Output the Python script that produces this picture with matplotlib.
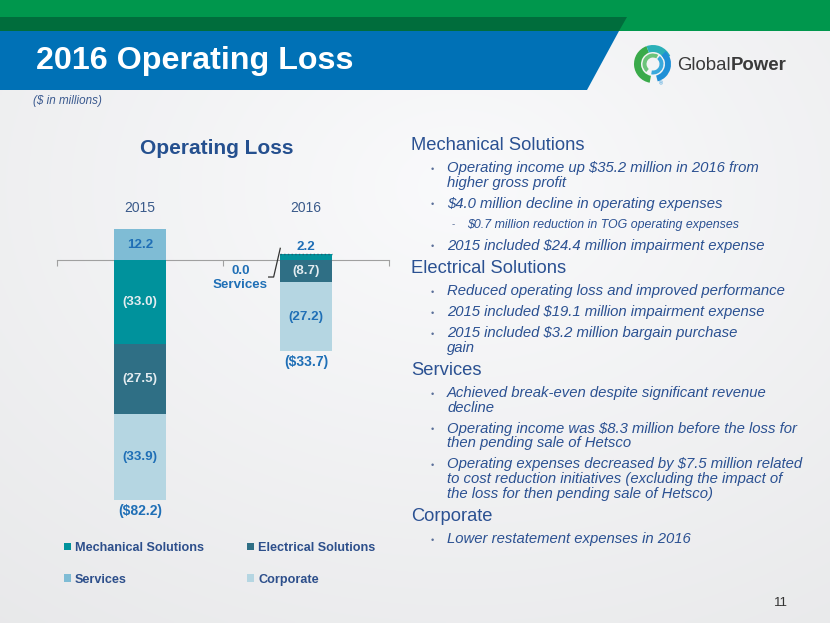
import numpy as np
import matplotlib.pyplot as plt
from matplotlib.patches import Polygon, Wedge

plt.rcParams['font.family'] = ['Liberation Sans', 'DejaVu Sans']

# operating income (loss) by segment, $ millions
years = ['2015', '2016']
segment_names = ['Mechanical Solutions', 'Electrical Solutions', 'Services', 'Corporate']
mechanical = [-33.0, 2.2]
electrical = [-27.5, -8.7]
services = [12.2, 0.0]
corporate = [-33.9, -27.2]
totals = [-82.2, -33.7]

seg_colors = ['#00929c', '#2f6f85', '#7fbcd5', '#b5d6e2']
label_colors = ['#e3ecf0', '#e3ecf0', '#1f6fb6', '#1f6fb6']
blue_txt = '#1f6fb6'
navy = '#2b5192'

notes = [
    (0, 'Mechanical Solutions'),
    (1, 'Operating income up $35.2 million in 2016 from\nhigher gross profit'),
    (1, '$4.0 million decline in operating expenses'),
    (2, '$0.7 million reduction in TOG operating expenses'),
    (1, '2015 included $24.4 million impairment expense'),
    (0, 'Electrical Solutions'),
    (1, 'Reduced operating loss and improved performance'),
    (1, '2015 included $19.1 million impairment expense'),
    (1, '2015 included $3.2 million bargain purchase\ngain'),
    (0, 'Services'),
    (1, 'Achieved break-even despite significant revenue\ndecline'),
    (1, 'Operating income was $8.3 million before the loss for\nthen pending sale of Hetsco'),
    (1, 'Operating expenses decreased by $7.5 million related\nto cost reduction initiatives (excluding the impact of\nthe loss for then pending sale of Hetsco)'),
    (0, 'Corporate'),
    (1, 'Lower restatement expenses in 2016'),
]

W, H = 830, 623
fig = plt.figure(figsize=(W / 100, H / 100), dpi=100)

# background / slide furniture, in pixel coords
bg = fig.add_axes([0, 0, 1, 1], zorder=-1)
bg.set_xlim(0, W)
bg.set_ylim(H, 0)
bg.axis('off')
yy, xx = np.mgrid[0:1:200j, 0:1:260j]
r = np.sqrt((xx - 0.55) ** 2 + (yy - 0.3) ** 2)
v = 0.978 - 0.075 * r
img = np.dstack([v, v + 0.002, v + 0.008]).clip(0, 1)
bg.imshow(img, extent=(0, W, H, 0), aspect='auto', interpolation='bilinear')

bg.add_patch(Polygon([(0, 0), (W, 0), (W, 31), (0, 31)], closed=True, color='#00974d', lw=0))
bg.add_patch(Polygon([(0, 17), (627, 17), (619, 31), (0, 31)], closed=True, color='#006d3c', lw=0))
bg.add_patch(Polygon([(0, 31), (619, 31), (587, 90), (0, 90)], closed=True, color='#0071b6', lw=0))
bg.text(36, 61, '2016 Operating Loss', color='white', fontsize=23.2, fontweight='bold',
        va='center', ha='left')
bg.text(33, 101, '($ in millions)', color='#3b5a8f', fontsize=8.4, style='italic',
        va='center', ha='left', parse_math=False)

# logo
c = (653, 64)
bg.add_patch(Wedge(c, 19, 100, 250, width=7, color='#3aaa4a', lw=0))
bg.add_patch(Wedge(c, 19, 250, 335, width=7, color='#2bb0b8', lw=0))
bg.add_patch(Wedge(c, 18, -45, 75, width=6, color='#1e8fd6', lw=0))
bg.add_patch(Wedge(c, 10.5, 130, 300, width=4, color='#6cc47a', lw=0))
bg.add_patch(Wedge(c, 10.5, -50, 100, width=4, color='#3aa9dc', lw=0))
bg.text(661, 84, '®', color='#1e8fd6', fontsize=4, ha='center', va='center')
bg.text(677, 66, 'Global', color='#3a3a3a', fontsize=13.4, va='center', ha='left')
bg.text(731, 66, 'Power', color='#3a3a3a', fontsize=13.4, fontweight='bold',
        va='center', ha='left')

bg.text(781, 603, '11', color='#333333', fontsize=9.5, ha='center', va='center')
bg.text(217, 148, 'Operating Loss', color='#25508f', fontsize=15, fontweight='bold',
        ha='center', va='center')

# right-hand commentary
y = 145
prev = None
for level, txt in notes:
    if prev is not None:
        y += 22.5 if level == 0 else (23 if prev == 0 else 21)
    lines = txt.split('\n')
    if level == 0:
        bg.text(411, y, txt, color=navy, fontsize=13.2, va='center', ha='left')
    elif level == 1:
        bg.text(432, y + 1, '•', color='#5a6f99', fontsize=6.5, va='center', ha='center')
        for k, ln in enumerate(lines):
            bg.text(447, y + k * 14.6, ln, color=navy, fontsize=10.7, style='italic',
                    va='center', ha='left', parse_math=False)
        y += (len(lines) - 1) * 14.6
    else:
        bg.text(453, y, '-', color='#5a6f99', fontsize=7, va='center', ha='center')
        bg.text(467, y, txt, color=navy, fontsize=8.9, style='italic',
                va='center', ha='left', parse_math=False)
    prev = level

# chart
zero_px, ppu = 260, 2.54
y_lo, y_hi = -95, 20
top_px = zero_px - y_hi * ppu
bot_px = zero_px - y_lo * ppu
ax = fig.add_axes([57 / W, 1 - bot_px / H, 332 / W, (bot_px - top_px) / H])
ax.patch.set_alpha(0)
ax.set_xlim(-0.5, 1.5)
ax.set_ylim(y_lo, y_hi)

x = np.arange(len(years))
bw = 0.31
series = [mechanical, electrical, services, corporate]
pos_base = np.zeros(len(years))
neg_base = np.zeros(len(years))
handles = []
for i, vals in enumerate(series):
    vals = np.array(vals)
    bottoms = np.where(vals >= 0, pos_base, neg_base)
    bars = ax.bar(x, vals, bw, bottom=bottoms, color=seg_colors[i], zorder=3,
                  label=segment_names[i])
    handles.append(bars)
    for j, val in enumerate(vals):
        mid = bottoms[j] + val / 2
        txt = f'({abs(val):.1f})' if val < 0 else f'{val:.1f}'
        if abs(val) >= 5:
            ax.text(x[j], mid, txt, ha='center', va='center', color=label_colors[i],
                    fontsize=9.6, fontweight='bold', zorder=4)
        elif val > 0:
            ax.text(x[j], bottoms[j] + val + 2.9, txt, ha='center', va='center',
                    color=blue_txt, fontsize=9.6, fontweight='bold', zorder=4)
        else:
            # zero segment: dotted edge plus call-out to the left
            ax.plot([x[j] - bw / 2, x[j] + bw / 2], [bottoms[j], bottoms[j]],
                    ls=':', color='#1d5f72', lw=1, zorder=4)
            lx = x[j] - bw / 2
            ax.plot([lx - 0.07, lx - 0.04, lx], [-6.7, -6.7, bottoms[j] + 2.4],
                    color='#333333', lw=0.9, zorder=4, clip_on=False)
            ax.text(x[j] - 0.395, -4.3, txt, ha='center', va='center', color=blue_txt,
                    fontsize=9.6, fontweight='bold')
            ax.text(x[j] - 0.4, -9.8, segment_names[i], ha='center', va='center',
                    color=blue_txt, fontsize=9.6, fontweight='bold')
    pos_base = pos_base + np.where(vals >= 0, vals, 0)
    neg_base = neg_base + np.where(vals < 0, vals, 0)

for j, tot in enumerate(totals):
    ax.text(x[j], neg_base[j] - 4.4, f'(${abs(tot):.1f})', ha='center', va='center',
            color=blue_txt, fontsize=10, fontweight='bold', clip_on=False,
            parse_math=False)
    ax.text(x[j], 20.5, years[j], ha='center', va='center', color='#3a5a8a',
            fontsize=10, clip_on=False)

for s in ['left', 'right', 'top']:
    ax.spines[s].set_visible(False)
ax.spines['bottom'].set_position(('data', 0))
ax.spines['bottom'].set_color('#a0a0a0')
ax.set_xticks([-0.5, 0.5, 1.5])
ax.set_xticklabels([])
ax.tick_params(axis='x', direction='out', length=4, color='#a0a0a0')
ax.set_yticks([])

order = [0, 2, 1, 3]
fig.legend([handles[k] for k in order], [segment_names[k] for k in order],
           ncol=2, loc='upper left', bbox_to_anchor=(64 / W, 1 - 542 / H),
           frameon=False, borderaxespad=0, borderpad=0,
           prop={'weight': 'bold', 'size': 9.1}, labelcolor='#2d4f8b',
           handlelength=0.55, handleheight=0.55, handletextpad=0.3,
           columnspacing=3.45, labelspacing=1.55)

fig.savefig('out.png', dpi=100)
